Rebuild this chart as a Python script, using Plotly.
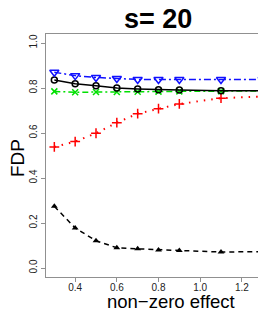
import plotly.graph_objects as go

effect = [0.3, 0.4, 0.5, 0.6, 0.7, 0.8, 0.9, 1.1, 1.3]
blue_vals = [0.870, 0.855, 0.847, 0.842, 0.838, 0.838, 0.838, 0.838, 0.838]
black_vals = [0.836, 0.819, 0.810, 0.800, 0.796, 0.792, 0.791, 0.788, 0.788]
green_vals = [0.785, 0.781, 0.782, 0.782, 0.783, 0.784, 0.785, 0.786, 0.787]
red_vals = [0.538, 0.562, 0.599, 0.646, 0.686, 0.708, 0.729, 0.755, 0.762]
dashed_vals = [0.274, 0.178, 0.121, 0.090, 0.085, 0.080, 0.078, 0.071, 0.073]

y_ticks = [0.0, 0.2, 0.4, 0.6, 0.8, 1.0]
y_ticktext = ["0.0", "0.2", "0.4", "0.6", "0.8", "1.0"]
x_ticks = [0.4, 0.6, 0.8, 1.0, 1.2]
x_ticktext = ["0.4", "0.6", "0.8", "1.0", "1.2"]

FONT = "Liberation Sans, Arial, sans-serif"

fig = go.Figure()

fig.add_trace(go.Scatter(
    x=effect, y=dashed_vals, mode="lines+markers",
    line=dict(color="black", width=1.5, dash="5px,4px"),
    marker=dict(symbol="triangle-up", size=6, color="black"),
))
fig.add_trace(go.Scatter(
    x=effect, y=red_vals, mode="lines+markers",
    line=dict(color="#ff0000", width=2, dash="1.5px,6px"),
    marker=dict(symbol="cross-thin-open", size=7, line=dict(color="#ff0000", width=1.5)),
))
fig.add_trace(go.Scatter(
    x=effect, y=green_vals, mode="lines+markers",
    line=dict(color="#00e000", width=1.5, dash="6px,3px,2px,3px"),
    marker=dict(symbol="x-thin-open", size=6, line=dict(color="#00e000", width=1.5)),
))
fig.add_trace(go.Scatter(
    x=effect, y=black_vals, mode="lines+markers",
    line=dict(color="black", width=1.5),
    marker=dict(symbol="circle-open", size=6, color="black", line=dict(width=1.5)),
))
fig.add_trace(go.Scatter(
    x=effect, y=blue_vals, mode="lines+markers",
    line=dict(color="#1010ff", width=1.5, dash="7px,3px,2px,3px"),
    marker=dict(symbol="triangle-down-open", size=8, color="#1010ff", line=dict(width=1.5)),
))

axis_common = dict(
    showgrid=False, zeroline=False, showline=True, mirror=True,
    linecolor="#909090", linewidth=1,
    ticks="outside", ticklen=4, tickcolor="#909090", tickwidth=1,
    tickfont=dict(family=FONT, size=10, color="#222222"),
)

fig.update_xaxes(range=[0.26, 1.34], tickmode="array", tickvals=x_ticks,
                 ticktext=x_ticktext, ticklabelstandoff=-3, **axis_common)
fig.update_yaxes(range=[-0.04, 1.04], tickmode="array", tickvals=y_ticks,
                 ticktext=y_ticktext, tickangle=-90, **axis_common)

fig.update_layout(
    width=266, height=310,
    margin=dict(l=38, r=3, t=26, b=41),
    paper_bgcolor="white", plot_bgcolor="white",
    showlegend=False,
    annotations=[
        dict(text="<b>s= 20</b>", xref="paper", yref="paper", x=0.498, y=1.062,
             xanchor="center", yanchor="middle", showarrow=False,
             font=dict(family=FONT, size=27, color="black")),
        dict(text="non\u2212zero effect", xref="paper", yref="paper", x=0.556, y=-0.099,
             xanchor="center", yanchor="middle", showarrow=False,
             font=dict(family=FONT, size=18.5, color="black")),
        dict(text="FDP", xref="paper", yref="paper", x=-0.124, y=0.49,
             xanchor="center", yanchor="middle", showarrow=False, textangle=-90,
             font=dict(family=FONT, size=19, color="black")),
    ],
)

fig.write_html("out.html")
